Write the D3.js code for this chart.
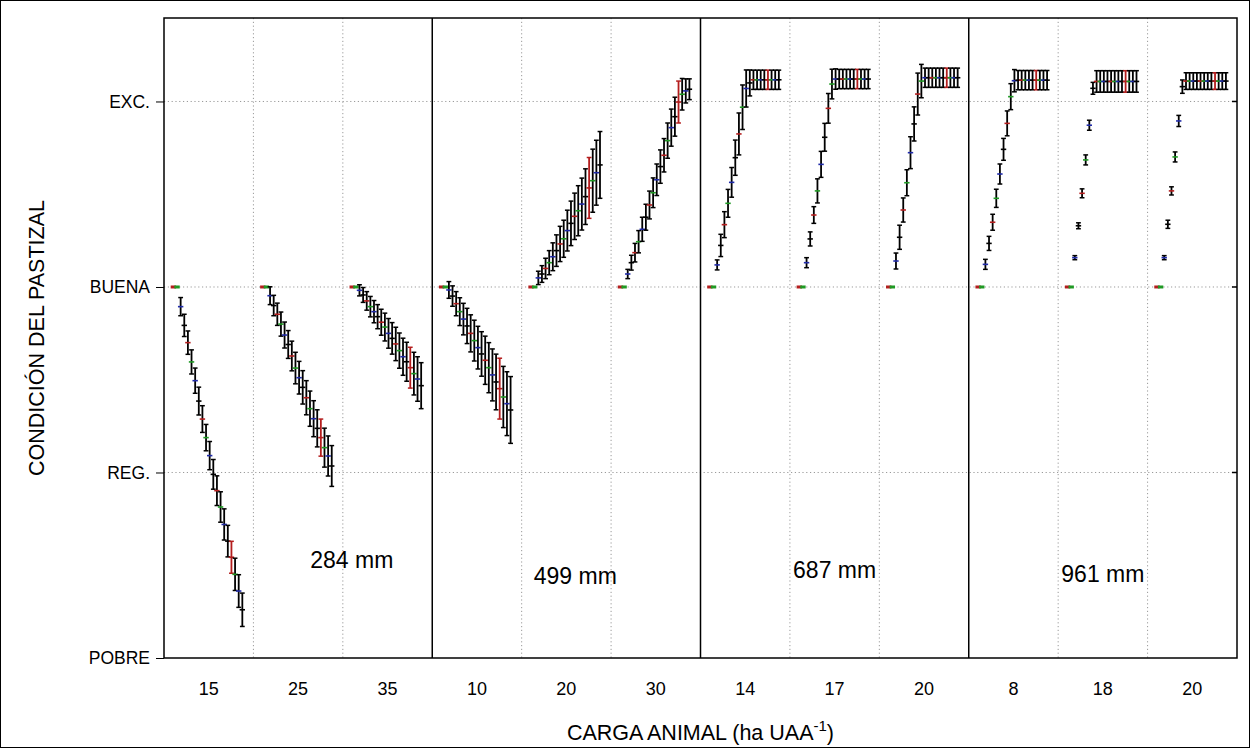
<!DOCTYPE html>
<html>
<head>
<meta charset="utf-8">
<script src="https://cdn.jsdelivr.net/npm/d3@7"></script>
<style>
  body { margin: 0; background: #fff; }
  svg { display: block; font-family: "Liberation Sans", Arial, sans-serif; }
</style>
</head>
<body>
<div class="canva"></div>
<script>
// data
const panels = ['284 mm', '499 mm', '687 mm', '961 mm'];
const categories = ['15', '25', '35', '10', '20', '30', '14', '17', '20', '8', '18', '20'];
const levels = ['POBRE', 'REG.', 'BUENA', 'EXC.'];

// mean condition for each of the 20 steps of each category
const means = [
  [2, 2, 1.894, 1.793, 1.70, 1.596, 1.495, 1.385, 1.288, 1.188, 1.091, 0.99, 0.902, 0.814, 0.72, 0.63, 0.543, 0.451, 0.361, 0.26],
  [2, 2, 1.953, 1.90, 1.853, 1.80, 1.741, 1.69, 1.628, 1.563, 1.511, 1.459, 1.403, 1.344, 1.29, 1.238, 1.188, 1.134, 1.089, 1.035],
  [2, 2, 1.982, 1.957, 1.925, 1.894, 1.867, 1.84, 1.81, 1.784, 1.75, 1.723, 1.693, 1.657, 1.624, 1.597, 1.565, 1.533, 1.504, 1.468],
  [2, 2, 1.984, 1.951, 1.91, 1.867, 1.827, 1.79, 1.75, 1.711, 1.673, 1.639, 1.605, 1.565, 1.526, 1.488, 1.452, 1.407, 1.371, 1.337],
  [2, 2, 2.049, 2.07, 2.10, 2.131, 2.163, 2.196, 2.232, 2.26, 2.304, 2.343, 2.381, 2.411, 2.447, 2.487, 2.534, 2.573, 2.616, 2.658],
  [2, 2, 2.07, 2.131, 2.185, 2.244, 2.311, 2.376, 2.442, 2.508, 2.578, 2.649, 2.71, 2.789, 2.859, 2.918, 2.997, 3.039, 3.057, 3.066],
  [2, 2, 2.119, 2.224, 2.336, 2.451, 2.564, 2.697, 2.825, 2.969, 3.07, 3.10, 3.117, 3.117, 3.117, 3.117, 3.117, 3.117, 3.117, 3.117],
  [2, 2, 2.131, 2.259, 2.388, 2.518, 2.661, 2.807, 2.963, 3.094, 3.121, 3.121, 3.121, 3.121, 3.121, 3.121, 3.121, 3.121, 3.121, 3.121],
  [2, 2, 2.14, 2.268, 2.415, 2.562, 2.724, 2.879, 3.04, 3.11, 3.128, 3.128, 3.128, 3.128, 3.128, 3.128, 3.128, 3.128, 3.128, 3.128],
  [2, 2, 2.122, 2.235, 2.349, 2.478, 2.609, 2.742, 2.882, 3.026, 3.112, 3.115, 3.115, 3.115, 3.115, 3.115, 3.115, 3.115, 3.115, 3.115],
  [2, 2, 2.158, 2.33, 2.505, 2.685, 2.872, 3.071, 3.108, 3.108, 3.108, 3.108, 3.108, 3.108, 3.108, 3.108, 3.108, 3.108, 3.108, 3.108],
  [2, 2, 2.158, 2.338, 2.518, 2.701, 2.895, 3.08, 3.11, 3.11, 3.11, 3.11, 3.11, 3.11, 3.11, 3.11, 3.11, 3.11, 3.11, 3.11]
];

// half length of each error bar
const errs = [
  [0, 0, 0.049, 0.06, 0.063, 0.065, 0.068, 0.075, 0.072, 0.071, 0.076, 0.08, 0.08, 0.082, 0.084, 0.085, 0.086, 0.087, 0.088, 0.09],
  [0, 0, 0.048, 0.055, 0.06, 0.065, 0.07, 0.075, 0.08, 0.085, 0.088, 0.09, 0.092, 0.095, 0.097, 0.1, 0.1, 0.105, 0.108, 0.11],
  [0, 0, 0.03, 0.04, 0.05, 0.055, 0.06, 0.065, 0.07, 0.075, 0.08, 0.085, 0.09, 0.095, 0.1, 0.105, 0.11, 0.115, 0.12, 0.124],
  [0, 0, 0.045, 0.055, 0.065, 0.075, 0.085, 0.095, 0.1, 0.11, 0.115, 0.12, 0.13, 0.135, 0.14, 0.15, 0.164, 0.165, 0.172, 0.18],
  [0, 0, 0.036, 0.045, 0.055, 0.065, 0.075, 0.085, 0.095, 0.1, 0.11, 0.12, 0.125, 0.135, 0.14, 0.15, 0.164, 0.17, 0.175, 0.18],
  [0, 0, 0.025, 0.04, 0.05, 0.06, 0.065, 0.07, 0.075, 0.08, 0.085, 0.09, 0.09, 0.095, 0.1, 0.105, 0.113, 0.085, 0.065, 0.056],
  [0, 0, 0.027, 0.06, 0.07, 0.075, 0.08, 0.095, 0.113, 0.12, 0.1, 0.07, 0.052, 0.052, 0.052, 0.052, 0.052, 0.052, 0.052, 0.052],
  [0, 0, 0.027, 0.038, 0.045, 0.065, 0.07, 0.075, 0.08, 0.08, 0.055, 0.052, 0.052, 0.052, 0.052, 0.052, 0.052, 0.052, 0.052, 0.052],
  [0, 0, 0.043, 0.065, 0.065, 0.07, 0.086, 0.092, 0.113, 0.09, 0.052, 0.052, 0.052, 0.052, 0.052, 0.052, 0.052, 0.052, 0.052, 0.052],
  [0, 0, 0.027, 0.038, 0.043, 0.049, 0.054, 0.059, 0.067, 0.07, 0.06, 0.052, 0.052, 0.052, 0.052, 0.052, 0.052, 0.052, 0.052, 0.052],
  [0, 0, 0.011, 0.016, 0.024, 0.027, 0.027, 0.032, 0.058, 0.058, 0.058, 0.058, 0.058, 0.058, 0.058, 0.058, 0.058, 0.058, 0.058, 0.058],
  [0, 0, 0.011, 0.022, 0.022, 0.027, 0.03, 0.036, 0.045, 0.045, 0.045, 0.045, 0.045, 0.045, 0.045, 0.045, 0.045, 0.045, 0.045, 0.045]
];

// colour of the mean marker cycles through these
const stepColors = ['#b41e1e', '#1f9a24', '#1f2aa8', '#000'];

const width = 1251, height = 748;
const plotLeft = 164, plotRight = 1237, plotTop = 18, plotBottom = 658;

const svg = d3.select('.canva').append('svg')
    .attr('width', width)
    .attr('height', height);

// outer frame
svg.append('rect')
    .attr('x', 0.5).attr('y', 0.5)
    .attr('width', width - 2).attr('height', height - 1)
    .attr('fill', 'none').attr('stroke', '#000');

const x = d3.scaleBand().domain(d3.range(categories.length)).range([plotLeft, plotRight]);
const y = d3.scaleLinear().domain([0, 3.45]).range([plotBottom, plotTop]);
const bw = x.bandwidth();
const xIn = d3.scaleLinear().domain([0, 19]).range([bw * 0.105, bw * 0.876]);

// dotted grid
const grid = svg.append('g').attr('stroke', '#9a9a9a').attr('stroke-dasharray', '1.2,2.6');
grid.selectAll('line.h').data([1, 2, 3]).join('line')
    .attr('x1', plotLeft).attr('x2', plotRight)
    .attr('y1', d => y(d)).attr('y2', d => y(d));
grid.selectAll('line.v').data(d3.range(1, categories.length).filter(i => i % 3 !== 0)).join('line')
    .attr('x1', d => x(d)).attr('x2', d => x(d))
    .attr('y1', plotTop).attr('y2', plotBottom);

// plot box and panel separators
svg.append('rect')
    .attr('x', plotLeft).attr('y', plotTop)
    .attr('width', plotRight - plotLeft).attr('height', plotBottom - plotTop)
    .attr('fill', 'none').attr('stroke', '#000').attr('stroke-width', 1.5);
svg.selectAll('line.sep').data([3, 6, 9]).join('line')
    .attr('x1', d => x(d)).attr('x2', d => x(d))
    .attr('y1', plotTop).attr('y2', plotBottom)
    .attr('stroke', '#000').attr('stroke-width', 1.5);

// y axis
const yAxis = svg.append('g')
    .attr('transform', `translate(${plotLeft},0)`)
    .call(d3.axisLeft(y).tickValues([0, 1, 2, 3]).tickFormat(d => levels[d]).tickSize(8).tickPadding(6));
yAxis.select('.domain').remove();
yAxis.selectAll('text').attr('font-size', 17.5).attr('fill', '#000')
    .attr('font-family', '"Liberation Sans", Arial, sans-serif');

// small inner ticks on the right border
svg.selectAll('line.rt').data([1, 2, 3]).join('line')
    .attr('x1', plotRight - 5).attr('x2', plotRight)
    .attr('y1', d => y(d)).attr('y2', d => y(d))
    .attr('stroke', '#000').attr('stroke-width', 1.5);

// x axis labels
const xAxis = svg.append('g')
    .attr('transform', `translate(0,${plotBottom})`)
    .call(d3.axisBottom(x).tickFormat(i => categories[i]).tickSize(0).tickPadding(24));
xAxis.select('.domain').remove();
xAxis.selectAll('text').attr('font-size', 18).attr('fill', '#000')
    .attr('font-family', '"Liberation Sans", Arial, sans-serif');

// error bars
const pts = [];
means.forEach((row, c) => row.forEach((m, i) => pts.push({c, i, m, e: errs[c][i]})));

const bars = svg.append('g').selectAll('g').data(pts).join('g')
    .attr('transform', d => `translate(${x(d.c) + xIn(d.i)},0)`);

bars.filter(d => d.e > 0).append('line')
    .attr('y1', d => y(d.m - d.e)).attr('y2', d => y(d.m + d.e))
    .attr('stroke', d => d.i === 16 ? stepColors[0] : '#000')
    .attr('stroke-width', 1.8);
[-1, 1].forEach(s => {
  bars.filter(d => d.e > 0).append('line')
      .attr('x1', -2.4).attr('x2', 2.4)
      .attr('y1', d => y(d.m + s * d.e)).attr('y2', d => y(d.m + s * d.e))
      .attr('stroke', d => d.i === 16 ? stepColors[0] : '#000')
      .attr('stroke-width', 1.5);
});
bars.append('line')
    .attr('x1', -2.7).attr('x2', 2.7)
    .attr('y1', d => y(d.m)).attr('y2', d => y(d.m))
    .attr('stroke', d => stepColors[d.i % 4])
    .attr('stroke-width', d => d.e > 0 ? 1.6 : 3);

// panel labels
const labelPos = [[2.1, 0.528], [4.6, 0.442], [7.5, 0.474], [10.5, 0.453]];
svg.selectAll('text.panel').data(panels).join('text')
    .attr('class', 'panel')
    .attr('x', (d, i) => plotLeft + labelPos[i][0] * bw)
    .attr('y', (d, i) => y(labelPos[i][1]))
    .attr('dy', '0.36em')
    .attr('text-anchor', 'middle')
    .attr('font-size', 23)
    .text(d => d);

// axis titles
const xt = svg.append('text')
    .attr('x', (plotLeft + plotRight) / 2)
    .attr('y', 740)
    .attr('text-anchor', 'middle')
    .attr('font-size', 21.5);
xt.append('tspan').text('CARGA ANIMAL (ha UAA');
xt.append('tspan').attr('dy', -9).attr('font-size', 15).text('-1');
xt.append('tspan').attr('dy', 9).text(')');

svg.append('text')
    .attr('transform', `translate(44,${(plotTop + plotBottom) / 2}) rotate(-90)`)
    .attr('text-anchor', 'middle')
    .attr('font-size', 21.5)
    .text('CONDICIÓN DEL PASTIZAL');
</script>
</body>
</html>
